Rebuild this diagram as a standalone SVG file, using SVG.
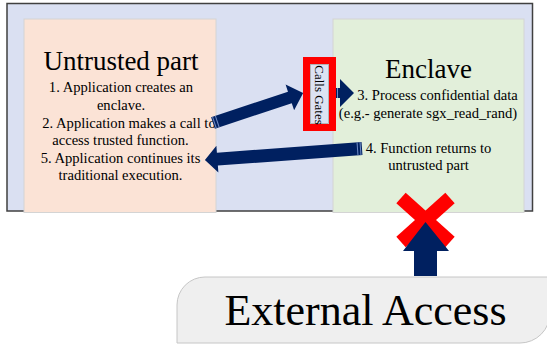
<svg xmlns="http://www.w3.org/2000/svg" width="547" height="344" viewBox="0 0 547 344">
<style>
text{font-family:"Liberation Serif","Times New Roman",serif;fill:#000}
.title{font-size:27px;text-anchor:middle}
.body{font-size:14.6px;text-anchor:middle}
.arrow{fill:#002060}
.stripe{stroke:#6f8cc6;stroke-width:1}
</style>
<g id="container">
<rect x="7" y="3.5" width="525.5" height="207.5" fill="#dae0f2" stroke="#404040" stroke-width="1.5"/>
</g>
<g id="untrusted">
<rect x="24" y="19" width="192" height="193.5" fill="#fbe3d6" stroke="#d4d4d4" stroke-width="1"/>
<text class="title" x="121" y="70">Untrusted part</text>
<text class="body" x="121" y="92">1. Application creates an</text>
<text class="body" x="121" y="110">enclave.</text>
<text class="body" x="129" y="127.5">2. Application makes a call to</text>
<text class="body" x="120.5" y="145">access trusted function.</text>
<text class="body" x="120.5" y="162.5">5. Application continues its</text>
<text class="body" x="120.5" y="180">traditional execution.</text>
</g>
<g id="enclave">
<rect x="333" y="19" width="191" height="193.5" fill="#e2efda" stroke="#d4d4d4" stroke-width="1"/>
<text class="title" x="428.5" y="78">Enclave</text>
<text class="body" x="437.5" y="100">3. Process confidential data</text>
<text class="body" x="428" y="118">(e.g.- generate sgx_read_rand)</text>
<text class="body" x="428.5" y="153">4. Function returns to</text>
<text class="body" x="428.5" y="170">untrusted part</text>
</g>
<g id="calls-gates">
<rect x="306.5" y="60.5" width="26" height="67" fill="#dce2f3" stroke="#ff0000" stroke-width="7"/>
<rect x="310.5" y="64.5" width="18" height="59" fill="none" stroke="#a8a8a8" stroke-width="0.8"/>
<text transform="translate(315,95) rotate(90)" style="font-size:13px;text-anchor:middle">Calls Gates</text>
</g>
<g id="external-access">
<path d="M177,305 A28,28 0 0 1 205,277 L550,277 L550,313 A30,30 0 0 1 520,343 L177,343 Z" fill="#efefef" stroke="#c6c6c6" stroke-width="1"/>
<text x="365.5" y="325" style="font-size:44px;text-anchor:middle">External Access</text>
</g>
<g id="blocked">
<line x1="401" y1="198" x2="450" y2="242" stroke="#ff0000" stroke-width="14"/>
<line x1="450" y1="198" x2="401" y2="242" stroke="#ff0000" stroke-width="14"/>
</g>
<g id="connectors">
<g transform="translate(213,123) rotate(-18.4)">
<polygon class="arrow" points="0,-6 81,-6 81,-13.5 95,0 81,13.5 81,6 0,6"/>
<line class="stripe" x1="1.5" y1="-6" x2="1.5" y2="6"/>
<line class="stripe" x1="4.5" y1="-6" x2="4.5" y2="6"/>
</g>
<g transform="translate(362,148.5) rotate(175.8)">
<polygon class="arrow" points="0,-6.5 145,-6.5 145,-13.5 157.5,0 145,13.5 145,6.5 0,6.5"/>
<line class="stripe" x1="1.5" y1="-6.5" x2="1.5" y2="6.5"/>
<line class="stripe" x1="4.5" y1="-6.5" x2="4.5" y2="6.5"/>
</g>
<polygon class="arrow" points="336,88 340,88 340,79 354,93 340,107 340,98 336,98"/>
<line class="stripe" x1="337.5" y1="88" x2="337.5" y2="98"/>
<polygon class="arrow" points="414,276 414,251 403,251 425.5,222 449,251 437,251 437,276"/>
</g>
</svg>
